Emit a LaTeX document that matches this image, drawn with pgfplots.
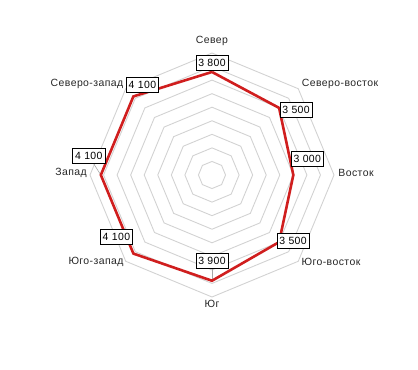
\documentclass[border=0pt]{standalone}
\usepackage{pgfplots}
\pgfplotsset{compat=1.18}
\usepackage{pgfplotstable}
\usepackage{fontspec}
\setmainfont{Liberation Sans}[LetterSpace=4]
\definecolor{radred}{HTML}{D01E1E}
\definecolor{gridgray}{HTML}{D2D2D2}

\pgfplotstableread{
a v dx dy
90 3800 0 9
45 3500 17 -2
0 3000 14 16
-45 3500 14 1
-90 3900 0 20
-135 4100 -17 17
180 4100 -12 19
135 4100 9 11.5
90 3800 0 9
}\radar

\begin{document}
\begin{tikzpicture}
\path[use as bounding box] (0,0) rectangle (418bp,370bp);
\begin{axis}[
  at={(212bp,195bp)}, anchor=center,
  x=27.111bp, y=27.111bp,
  xmin=-5, xmax=5, ymin=-5, ymax=5,
  hide axis, clip=false,
  /pgf/number format/.cd, fixed, precision=0, 1000 sep={\ }, assume math mode=true,
]
\pgfplotsinvokeforeach{1,...,9}{
  \addplot[gridgray, line width=0.9bp, domain=0:360, samples=9, mark=none]
    ({#1*0.5*cos(x)},{#1*0.5*sin(x)});
}
\draw[gray!70, line width=0.6bp] (axis cs:0,-3.9) -- ++(0bp,12bp);
\draw[gray!70, line width=0.6bp] (axis cs:-4.1,0) -- ++(-7bp,11bp);
\addplot[radred, line width=2.6bp, mark=none,
  nodes near coords, point meta=\thisrow{v},
  visualization depends on={\thisrow{dx} \as \dx},
  visualization depends on={\thisrow{dy} \as \dy},
  nodes near coords style={anchor=center, xshift=\dx bp, yshift=\dy bp,
    draw=black, fill=white, text=black, line width=0.7bp,
    inner xsep=2.3bp, inner ysep=3.6bp, font=\fontsize{10.5}{12}\selectfont},
] table[x expr={\thisrow{v}/1000*cos(\thisrow{a})}, y expr={\thisrow{v}/1000*sin(\thisrow{a})}] {\radar};
\end{axis}
\begin{scope}[every node/.style={font=\fontsize{10.5}{12}\selectfont, text=black!85, inner sep=0pt}]
\node at (212bp,329bp) {Север};
\node at (340bp,286bp) {Северо-восток};
\node at (356bp,197bp) {Восток};
\node at (331bp,108bp) {Юго-восток};
\node at (212bp,66bp) {Юг};
\node at (96bp,108bp) {Юго-запад};
\node at (71bp,197bp) {Запад};
\node at (87bp,286bp) {Северо-запад};
\end{scope}
\end{tikzpicture}
\end{document}
